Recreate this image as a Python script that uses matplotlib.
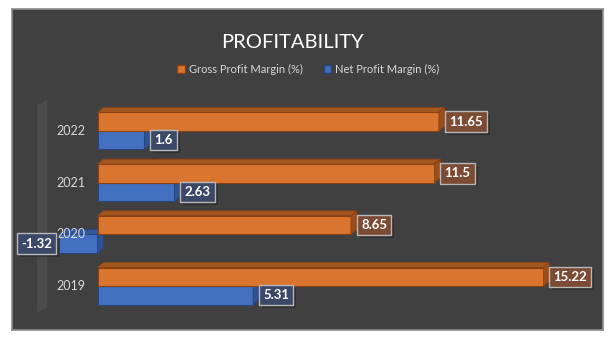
import matplotlib
matplotlib.use("Agg")
import matplotlib.pyplot as plt
import matplotlib.patheffects as pe
from matplotlib.patches import Rectangle, Polygon

plt.rcParams['font.family'] = ['Lato', 'DejaVu Sans']

# data
years = ['2019', '2020', '2021', '2022']
gross = [15.22, 8.65, 11.5, 11.65]
net = [5.31, -1.32, 2.63, 1.6]

# colours
bg = '#404040'
orange_front, orange_top, orange_side, orange_edge = '#d9752f', '#a4561f', '#9a4e1c', '#8a4114'
blue_front, blue_top, blue_side, blue_edge = '#4470c0', '#33589c', '#2f5392', '#27457c'

fig = plt.figure(figsize=(6.14, 3.40), dpi=100)
fig.patch.set_facecolor('white')

ax = fig.add_axes([12 / 614, 10 / 340, 591 / 614, 321 / 340])
ax.set_facecolor(bg)
for s in ax.spines.values():
    s.set_color('#8c8c8c')
    s.set_linewidth(1.2)
ax.set_xticks([])
ax.set_yticks([])
ax.set_xlim(-2.918, 17.25)
ax.set_ylim(-0.851, 5.36)

h = 0.358   # bar thickness
dx = 0.2    # 3d depth in x
dy = 0.097  # 3d depth in y

# back wall stripe at axis minimum
ax.add_patch(Polygon([(-2.06, -0.52), (-1.72, -0.42), (-1.72, 3.60), (-2.06, 3.50)],
                     closed=True, facecolor='#4b4b4b', edgecolor='none', zorder=1))


def bar3d(v, bottom, front, top, side, edge):
    x0, x1 = min(0, v), max(0, v)
    t = bottom + h
    ax.barh(bottom, v, height=h, align='edge', color=front, edgecolor=edge, linewidth=0.8, zorder=3)
    ax.add_patch(Polygon([(x0, t), (x1, t), (x1 + dx, t + dy), (x0 + dx, t + dy)],
                         closed=True, facecolor=top, edgecolor=edge, linewidth=0.6, zorder=3))
    ax.add_patch(Polygon([(x1, bottom), (x1 + dx, bottom + dy), (x1 + dx, t + dy), (x1, t)],
                         closed=True, facecolor=side, edgecolor=edge, linewidth=0.6, zorder=3))


def label(v, yc, fill):
    if v >= 0:
        t = ax.annotate(f'{v:g}', xy=(v + dx, yc), xytext=(3, 0), textcoords='offset points',
                        ha='left', va='center', color='white', fontsize=9.5, fontweight='bold', zorder=5,
                        bbox=dict(boxstyle='square,pad=0.32', facecolor=fill, edgecolor='#b8b8b8', linewidth=1))
    else:
        t = ax.annotate(f'{v:g}', xy=(v, yc), xytext=(-5, 0), textcoords='offset points',
                        ha='right', va='center', color='white', fontsize=9.5, fontweight='bold', zorder=5,
                        bbox=dict(boxstyle='square,pad=0.32', facecolor=fill, edgecolor='#b8b8b8', linewidth=1))
    t.get_bbox_patch().set_path_effects([pe.SimplePatchShadow(offset=(2, -2), shadow_rgbFace='#262626', alpha=0.6),
                                         pe.Normal()])


for i in range(len(years) - 1, -1, -1):
    bar3d(net[i], i - h, blue_front, blue_top, blue_side, blue_edge)
    bar3d(gross[i], i, orange_front, orange_top, orange_side, orange_edge)
    label(gross[i], i + h / 2, '#7b4b33')
    label(net[i], i - h / 2, '#3b4868')
    ax.text(-0.42, i, years[i], ha='right', va='center', color='#d9d9d9', fontsize=9, zorder=4)

# legend
handles = [Rectangle((0, 0), 1, 1, facecolor=orange_front, edgecolor=orange_edge),
           Rectangle((0, 0), 1, 1, facecolor=blue_front, edgecolor=blue_edge)]
fig.legend(handles, ['Gross Profit Margin (%)', 'Net Profit Margin (%)'], loc='center',
           bbox_to_anchor=(0.502, 0.797), ncol=2, frameon=False, fontsize=8, labelcolor='#d9d9d9',
           handlelength=0.7, handleheight=0.7, handletextpad=0.3, columnspacing=1.9)

fig.text(0.477, 0.876, 'PROFITABILITY', ha='center', va='center', color='white', fontsize=14.5)

fig.savefig('out.png', dpi=100)
